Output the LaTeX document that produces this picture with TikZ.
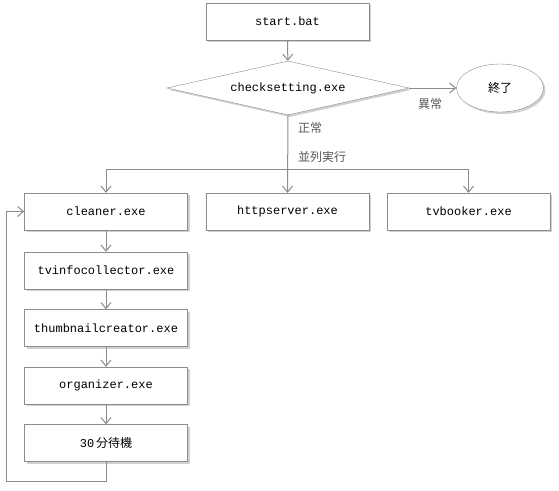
\documentclass[tikz,border=0pt]{standalone}
\usepackage{fontspec}
\setmainfont{Noto Sans CJK JP}
\setmonofont{Liberation Mono}
\newfontfamily\jp{Noto Sans CJK JP}
\usetikzlibrary{arrows.meta,shapes.geometric,shadows}
\definecolor{ln}{HTML}{8C8C8C}
\definecolor{lbl}{HTML}{595959}
\tikzset{
  box/.style={draw=ln, fill=white, minimum width=163pt, minimum height=37pt, inner sep=0pt,
    font=\ttfamily\fontsize{12}{14}\selectfont,
    drop shadow={shadow xshift=2pt, shadow yshift=-2pt, fill=black, opacity=0.18}},
  decision/.style={draw=ln, fill=white, diamond, aspect=4.5, minimum width=242pt, minimum height=54pt, inner sep=0pt,
    font=\ttfamily\fontsize{12}{14}\selectfont,
    drop shadow={shadow xshift=2pt, shadow yshift=-2pt, fill=black, opacity=0.18}},
  term/.style={draw=ln, fill=white, ellipse, minimum width=87pt, minimum height=48pt, inner sep=0pt,
    font=\jp\fontsize{12}{14}\selectfont,
    drop shadow={shadow xshift=2pt, shadow yshift=-2pt, fill=black, opacity=0.18}},
  arr/.style={draw=ln, line width=1pt, -{Straight Barb[length=6pt,width=10pt,line width=1pt]}},
  lab/.style={text=lbl, font=\jp\fontsize{12}{14}\selectfont, inner sep=0pt}
}
\begin{document}
\begin{tikzpicture}[x=1pt,y=-1pt]
\useasboundingbox[fill=white] (0,0) rectangle (559,490);
\node[box] (start) at (287.5,21.5) {start.bat};
\node[decision] (check) at (288,88) {checksetting.exe};
\node[term] (end) at (500,88) {終了};
\node[box] (cleaner) at (106,211.5) {cleaner.exe};
\node[box] (http) at (287.5,211.5) {httpserver.exe};
\node[box] (tvb) at (468.5,211.5) {tvbooker.exe};
\node[box] (tvinfo) at (106,270.5) {tvinfocollector.exe};
\node[box] (thumb) at (106,328) {thumbnailcreator.exe};
\node[box] (org) at (106,385.5) {organizer.exe};
\node[box] (wait) at (106,443) {30\,{\jp 分待機}};
\coordinate (br) at (288,169);
\coordinate (l1) at (106,481);
\coordinate (l2) at (6,481);
\draw[arr] (start) -- (check);
\draw[arr] (check.east) -- (end.west);
\draw[arr] (check.south) -- (http.north);
\draw[arr] (br) -| (cleaner.north);
\draw[arr] (br) -| (tvb.north);
\draw[arr] (cleaner) -- (tvinfo);
\draw[arr] (tvinfo) -- (thumb);
\draw[arr] (thumb) -- (org);
\draw[arr] (org) -- (wait);
\draw[arr] (wait.south) -- (l1) -- (l2) |- (cleaner.west);
\node[lab] (ab) at (430,104) {異常};
\node[lab] (ok) at (310,128) {正常};
\node[lab] (par) at (322,157) {並列実行};
\end{tikzpicture}
\end{document}
